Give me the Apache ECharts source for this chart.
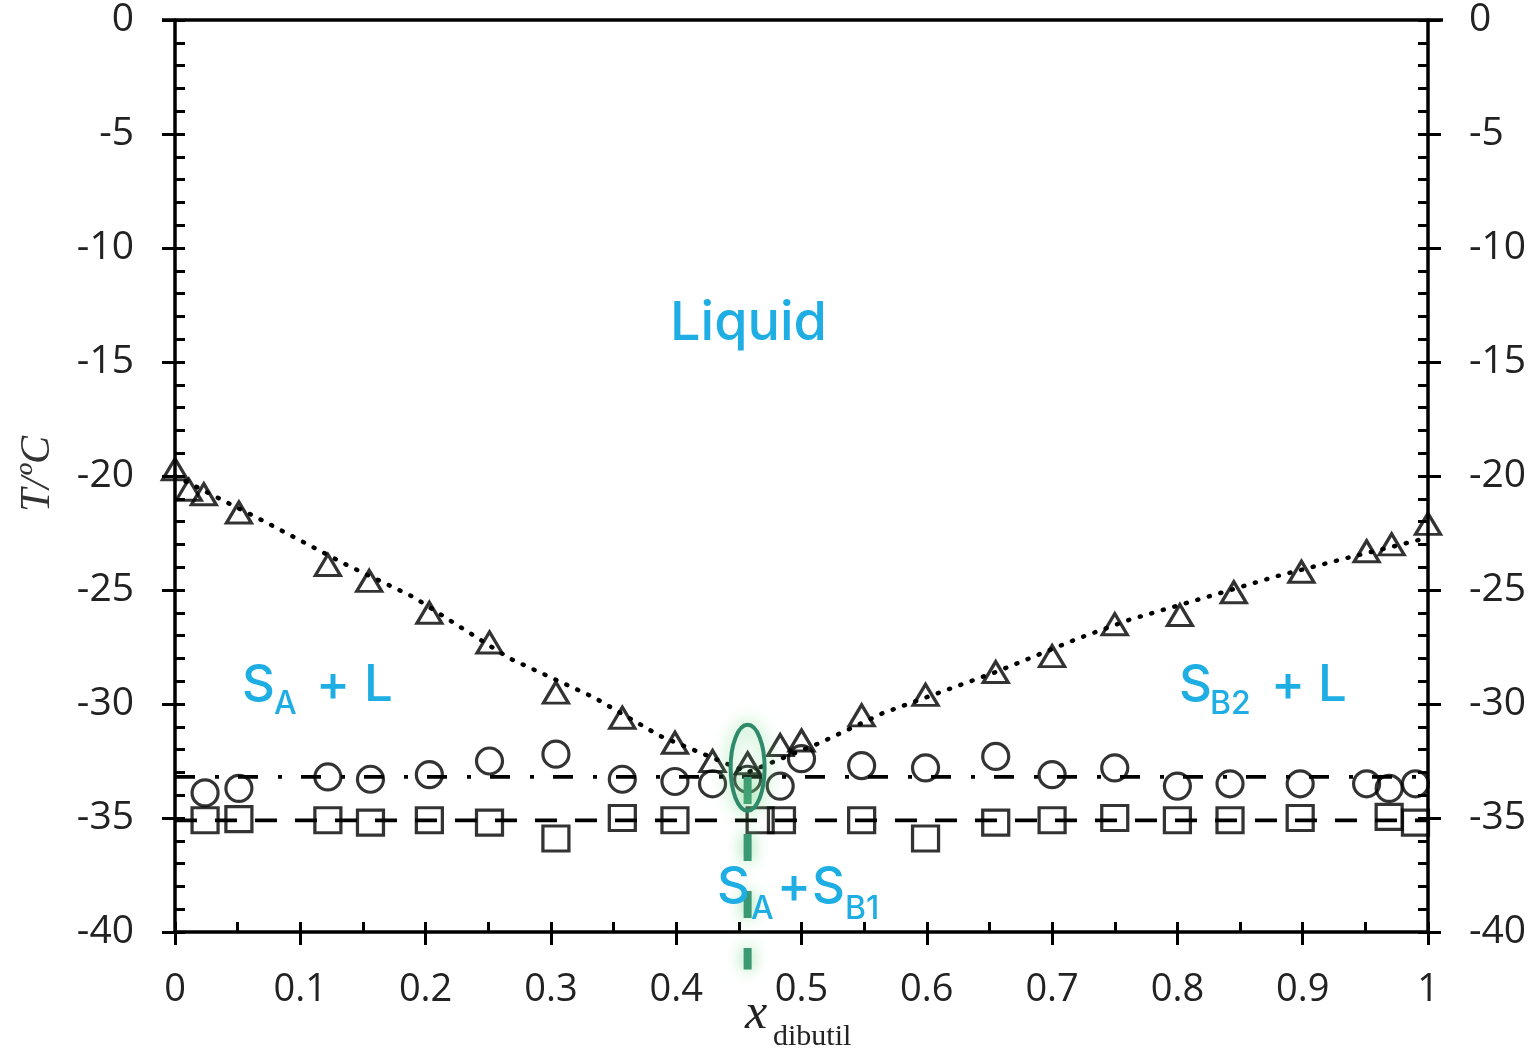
<!DOCTYPE html>
<html><head><meta charset="utf-8">
<script src="https://cdn.jsdelivr.net/npm/echarts@6/dist/echarts.min.js"></script>
<style>html,body{margin:0;padding:0;background:#fff}#c{width:1536px;height:1051px}</style>
</head><body><div id="c"></div>
<script>
// ---- data ----
const liquidusX = [0, 0.011, 0.023, 0.051, 0.122, 0.155, 0.203, 0.251, 0.304, 0.357, 0.399, 0.429, 0.457, 0.483, 0.5, 0.548, 0.599, 0.655, 0.70, 0.75, 0.802, 0.845, 0.899, 0.951, 0.971, 1.0];
const liquidusT = [-19.7, -20.6, -20.8, -21.6, -23.9, -24.6, -26.0, -27.3, -29.5, -30.6, -31.7, -32.5, -32.6, -31.8, -31.6, -30.5, -29.6, -28.6, -27.9, -26.5, -26.1, -25.1, -24.2, -23.3, -23.0, -22.1];
const transitionX = [0.024, 0.051, 0.122, 0.156, 0.203, 0.251, 0.304, 0.357, 0.399, 0.429, 0.457, 0.483, 0.5, 0.548, 0.599, 0.655, 0.70, 0.75, 0.80, 0.842, 0.898, 0.951, 0.969, 0.99];
const transitionT = [-33.9, -33.7, -33.2, -33.3, -33.1, -32.5, -32.2, -33.3, -33.4, -33.5, -33.3, -33.6, -32.4, -32.7, -32.8, -32.3, -33.1, -32.8, -33.6, -33.5, -33.5, -33.5, -33.7, -33.5];
const solidusX = [0.024, 0.051, 0.122, 0.156, 0.203, 0.251, 0.304, 0.357, 0.399, 0.467, 0.484, 0.548, 0.599, 0.655, 0.70, 0.75, 0.80, 0.842, 0.898, 0.969, 0.99];
const solidusT = [-35.1, -35.05, -35.1, -35.2, -35.1, -35.2, -35.9, -35.0, -35.1, -35.1, -35.1, -35.1, -35.9, -35.2, -35.1, -35.0, -35.1, -35.1, -35.0, -34.95, -35.2];
const liqFitX = [0, 0.068, 0.137, 0.19, 0.267, 0.334, 0.387, 0.457, 0.515, 0.565, 0.655, 0.722, 0.762, 0.824, 0.879, 0.935, 0.986, 1.0];
const liqFitT = [-20.0, -21.9, -23.9, -25.3, -28.0, -29.7, -31.4, -33.0, -31.7, -30.4, -28.6, -27.1, -26.3, -25.3, -24.4, -23.6, -22.9, -22.7];
const eutecticT = -33.2;
const solidLineT = -35.1;
const eutecticX = 0.457;
const eutecticMarkT = -32.8;
const eutecticDropT = [-33.2, -41.65];
const xTickLabels = ['0', '0.1', '0.2', '0.3', '0.4', '0.5', '0.6', '0.7', '0.8', '0.9', '1'];
const yTickLabels = ['-40', '-35', '-30', '-25', '-20', '-15', '-10', '-5', '0'];

const pairs = (xs, ys) => xs.map((x, i) => [x, ys[i]]);
const xFmt = v => xTickLabels[Math.round(v * 10)];
const yFmt = v => yTickLabels[Math.round((v + 40) / 5)];

const INK = '#000';
const CYAN = '#1eaee4';
const labelFont = 'Open Sans';
const tickStyle = { color: '#000', width: 3 };

function yAxisDef(pos, labeled) {
  return {
    type: 'value', min: -40, max: 0, interval: 5, position: pos,
    axisLine: { show: labeled, onZero: false, lineStyle: { color: '#000', width: 3.5 } },
    axisTick: { show: true, inside: labeled, length: labeled ? 10 : 13, lineStyle: tickStyle },
    minorTick: { show: labeled, splitNumber: 5, length: 10, lineStyle: tickStyle },
    splitLine: { show: false },
    axisLabel: { show: labeled, formatter: yFmt, fontSize: 39, fontFamily: labelFont, color: '#222', margin: 41 }
  };
}
function xAxisDef(labeled) {
  return {
    type: 'value', min: 0, max: 1, interval: 0.1, position: 'bottom',
    axisLine: { show: labeled, onZero: false, lineStyle: { color: '#000', width: 3.5 } },
    axisTick: { show: true, inside: labeled, length: labeled ? 10 : 13, lineStyle: tickStyle },
    minorTick: { show: labeled, splitNumber: 2, length: 10, lineStyle: tickStyle },
    splitLine: { show: false },
    axisLabel: { show: labeled, formatter: xFmt, fontSize: 38, fontFamily: labelFont, color: '#222', margin: 39 }
  };
}

const hollow = { color: 'rgba(0,0,0,0)', borderColor: INK, borderWidth: 3.2 };

function txt(text, x, y, size, extra) {
  return Object.assign({
    type: 'text', z: 50,
    style: { text: text, x: x, y: y, fill: CYAN, fontSize: size, fontFamily: 'Inter', fontWeight: 500, align: 'left', verticalAlign: 'middle' }
  }, extra || {});
}

const chart = echarts.init(document.getElementById('c'), null, { renderer: 'canvas' });
chart.setOption({
  backgroundColor: '#fff',
  animation: false,
  grid: { left: 175, right: 108, top: 20, bottom: 119, containLabel: false },
  xAxis: [xAxisDef(true), xAxisDef(false)],
  yAxis: [yAxisDef('left', true), yAxisDef('right', true), yAxisDef('left', false), yAxisDef('right', false)],
  series: [
    { name: 'liquidus fit', type: 'line', data: pairs(liqFitX, liqFitT), showSymbol: false, smooth: false,
      lineStyle: { color: INK, width: 4.5, type: [1, 11], cap: 'round' }, z: 2 },
    { name: 'eutectic', type: 'line', data: [[0, eutecticT], [1, eutecticT]], showSymbol: false,
      lineStyle: { color: INK, width: 3.8, type: [20, 20, 4, 19] }, z: 2 },
    { name: 'solidus line', type: 'line', data: [[0, solidLineT], [1, solidLineT]], showSymbol: false,
      lineStyle: { color: INK, width: 3.8, type: [22, 18] }, z: 2 },
    { name: 'liquidus', type: 'scatter', data: pairs(liquidusX, liquidusT), symbol: 'triangle', symbolSize: [25, 21], itemStyle: hollow, z: 3 },
    { name: 'transition', type: 'scatter', data: pairs(transitionX, transitionT), symbol: 'circle', symbolSize: 26, itemStyle: hollow, z: 3 },
    { name: 'solidus', type: 'scatter', data: pairs(solidusX, solidusT), symbol: 'rect', symbolSize: [26, 25], itemStyle: hollow, z: 3 },
    { name: 'eutectic mark', type: 'custom', clip: false, z: 10,
      data: [[eutecticX, eutecticMarkT, eutecticDropT[0], eutecticDropT[1]]],
      renderItem: function (params, api) {
        const c = api.coord([api.value(0), api.value(1)]);
        const p1 = api.coord([api.value(0), api.value(2)]);
        const p2 = api.coord([api.value(0), api.value(3)]);
        return { type: 'group', children: [
          { type: 'line', shape: { x1: p1[0], y1: p1[1], x2: p2[0], y2: p2[1] },
            style: { stroke: '#3a9873', lineWidth: 8, lineDash: [27, 30], shadowBlur: 16, shadowColor: 'rgba(120,215,140,1)' } },
          { type: 'ellipse', shape: { cx: c[0], cy: c[1], rx: 17, ry: 43 },
            style: { fill: 'rgba(0,0,0,0)', stroke: '#2e8a6b', lineWidth: 4, shadowBlur: 18, shadowColor: 'rgba(110,215,130,1)' } }
        ] };
      }
    }
  ],
  graphic: [
    { type: 'line', shape: { x1: 162, y1: 20, x2: 1443, y2: 20 }, style: { stroke: '#000', lineWidth: 3.5 }, z: 40 },
    txt('Liquid', 670, 324, 54),
    txt('S', 242, 686, 51), txt('A', 274, 704, 32), txt('+', 316, 686, 51), txt('L', 364, 686, 51),
    txt('S', 1179, 686, 51), txt('B2', 1210, 704, 32), txt('+', 1271, 686, 51), txt('L', 1318, 686, 51),
    txt('S', 717, 888, 51), txt('A', 751, 909, 32), txt('+', 777, 888, 51), txt('S', 812, 888, 51), txt('B1', 845, 909, 32),
    { type: 'text', z: 50, style: { text: 'x', x: 745, y: 1040, fill: '#222', fontSize: 50, fontFamily: 'Liberation Serif', fontStyle: 'italic', align: 'left', verticalAlign: 'bottom' } },
    { type: 'text', z: 50, style: { text: 'dibutil', x: 773, y: 1052, fill: '#222', fontSize: 30, fontFamily: 'Liberation Serif', align: 'left', verticalAlign: 'bottom' } },
    { type: 'text', z: 50, x: 38, y: 474, rotation: Math.PI / 2,
      style: { text: 'T/ºC', x: 0, y: 0, fill: '#333', fontSize: 42, fontFamily: 'Liberation Serif', fontStyle: 'italic', align: 'center', verticalAlign: 'middle' } }
  ]
});
</script>
</body></html>
